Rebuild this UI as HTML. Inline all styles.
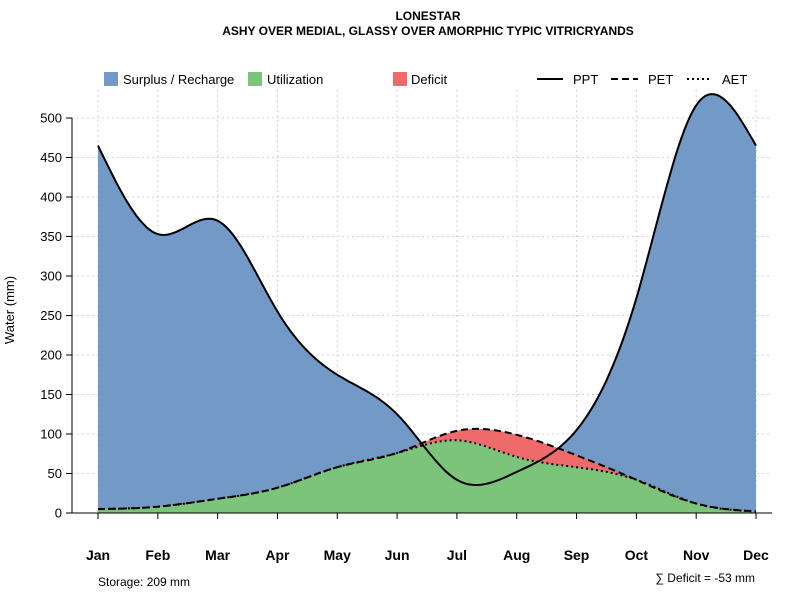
<!DOCTYPE html>
<html><head><meta charset="utf-8"><style>
body{margin:0;background:#fff;}
svg{display:block;font-family:"Liberation Sans",sans-serif;}
</style></head><body>
<svg id="chart" width="800" height="600">
<text x="428" y="20" text-anchor="middle" font-size="12" font-weight="bold">LONESTAR</text>
<text x="428" y="35" text-anchor="middle" font-size="12" font-weight="bold">ASHY OVER MEDIAL, GLASSY OVER AMORPHIC TYPIC VITRICRYANDS</text>
<g>
<rect x="104" y="72" width="14" height="14" fill="#7399c6"/>
<text x="123" y="84" font-size="13">Surplus / Recharge</text>
<rect x="248" y="72" width="14" height="14" fill="#7dc47b"/>
<text x="267" y="84" font-size="13">Utilization</text>
<rect x="393" y="72" width="14" height="14" fill="#ef6b6b"/>
<text x="411" y="84" font-size="13">Deficit</text>
<line x1="537" y1="79" x2="563" y2="79" stroke="#000" stroke-width="2"/>
<text x="573" y="84" font-size="13">PPT</text>
<line x1="611" y1="79" x2="638" y2="79" stroke="#000" stroke-width="2" stroke-dasharray="7,4"/>
<text x="648" y="84" font-size="13">PET</text>
<line x1="687" y1="79" x2="712" y2="79" stroke="#000" stroke-width="2" stroke-dasharray="2,3"/>
<text x="722" y="84" font-size="13">AET</text>
</g>
<g id="grid"></g><g id="areas"></g><g id="lines"></g><g id="axes"></g>
<text x="14" y="310" font-size="13" text-anchor="middle" transform="rotate(-90 14 310)">Water (mm)</text>
<text x="98" y="586" font-size="12">Storage: 209 mm</text>
<text x="755" y="582" font-size="12" text-anchor="end">∑ Deficit = -53 mm</text>
</svg>
<script>
const months=["Jan","Feb","Mar","Apr","May","Jun","Jul","Aug","Sep","Oct","Nov","Dec"];
const ppt=[465,353,370,255,175,125,42,52,105,272,516,465];
const pet=[5,8,18,32,58,76,104,99,73,42,12,2];
const aet=[5,8,18,32,58,76,92,71,58,42,12,2];
const yTicks=[0,50,100,150,200,250,300,350,400,450,500];
const NS="http://www.w3.org/2000/svg";
const X=i=>98+i*(756-98)/11;
const Y=v=>513-v*0.79;
function el(p,t,a){const e=document.createElementNS(NS,t);for(const k in a)e.setAttribute(k,a[k]);p.appendChild(e);return e;}
function spline(ys){const n=ys.length,a=ys.slice(),c=new Array(n).fill(0);
 const l=[1],mu=[0],z=[0];
 for(let i=1;i<n-1;i++){const al=3*(a[i+1]-2*a[i]+a[i-1]);l[i]=4-mu[i-1];mu[i]=1/l[i];z[i]=(al-z[i-1])/l[i];}
 z[n-1]=0;c[n-1]=0;const b=[],d=[];
 for(let j=n-2;j>=0;j--){c[j]=z[j]-mu[j]*c[j+1];b[j]=a[j+1]-a[j]-(c[j+1]+2*c[j])/3;d[j]=(c[j+1]-c[j])/3;}
 const out=[];for(let j=0;j<n-1;j++)for(let s=0;s<20;s++){const t=s/20;out.push([j+t,a[j]+b[j]*t+c[j]*t*t+d[j]*t*t*t]);}
 out.push([n-1,a[n-1]]);return out;}
const P=spline(ppt),E=spline(pet),A=spline(aet);
const pts=arr=>arr.map(p=>X(p[0]).toFixed(1)+","+Y(p[1]).toFixed(1)).join(" ");
const grid=document.getElementById("grid"),areas=document.getElementById("areas"),lines=document.getElementById("lines"),axes=document.getElementById("axes");
yTicks.forEach(v=>{const g=el(grid,"line",{x1:72,x2:772,y1:Y(v),y2:Y(v),stroke:"#d3d3d3","stroke-dasharray":"2,3"});

});
months.forEach((m,i)=>{const g=el(grid,"line",{x1:X(i),x2:X(i),y1:90,y2:513,stroke:"#d3d3d3","stroke-dasharray":"2,3"});

});
const base=X(0)+","+Y(0)+" ";
const surplus=el(areas,"polygon",{points:base+pts(P)+" "+X(11)+","+Y(0),fill:"#7399c6"});


const util=el(areas,"polygon",{points:base+pts(A)+" "+X(11)+","+Y(0),fill:"#7dc47b"});


const def=el(areas,"polygon",{points:pts(E)+" "+pts(A.slice().reverse()),fill:"#ef6b6b"});


const lp=el(lines,"polyline",{points:pts(P),fill:"none",stroke:"#000","stroke-width":2});


const le=el(lines,"polyline",{points:pts(E),fill:"none",stroke:"#000","stroke-width":2,"stroke-dasharray":"7,4"});


const la=el(lines,"polyline",{points:pts(A),fill:"none",stroke:"#000","stroke-width":2,"stroke-dasharray":"2,3"});


const ya=el(axes,"line",{x1:72,x2:72,y1:Y(500),y2:Y(0),stroke:"#000"});


yTicks.forEach(v=>{el(axes,"line",{x1:66,x2:72,y1:Y(v),y2:Y(v),stroke:"#000"});
const t=el(axes,"text",{x:62,y:Y(v)+4.5,"text-anchor":"end","font-size":13});t.textContent=v;

});
const xa=el(axes,"line",{x1:72,x2:772,y1:513,y2:513,stroke:"#000"});


months.forEach((m,i)=>{el(axes,"line",{x1:X(i),x2:X(i),y1:513,y2:519,stroke:"#000"});
const t=el(axes,"text",{x:X(i),y:560,"text-anchor":"middle","font-size":14,"font-weight":"bold"});t.textContent=m;

});
</script>
</body></html>
